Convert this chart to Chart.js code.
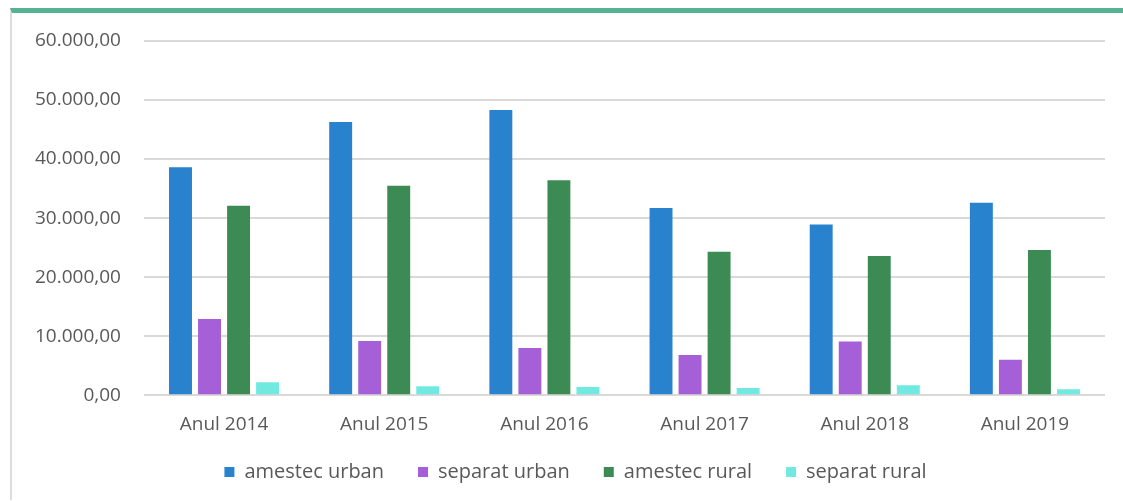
<!DOCTYPE html>
<html>
<head>
<meta charset="utf-8">
<script src="https://cdn.jsdelivr.net/npm/chart.js@4"></script>
<style>
  body { margin: 0; background: #fff; }
  #frame {
    position: absolute;
    left: 10px; top: 8px;
    width: 1111px; height: 487px;
    border-top: 5px solid #55b393;
    border-left: 2px solid #dcdcdc;
  }
  #chart { display: block; }
</style>
</head>
<body>
<div id="frame"><canvas id="chart" width="1111" height="487"></canvas></div>
<script>
// years on the x axis
const years = ['Anul 2014', 'Anul 2015', 'Anul 2016', 'Anul 2017', 'Anul 2018', 'Anul 2019'];

// values
const amestecUrban = [38600, 46300, 48300, 31700, 28900, 32600];
const separatUrban = [12900, 9200, 8000, 6800, 9100, 6000];
const amestecRural = [32100, 35500, 36400, 24300, 23600, 24600];
const separatRural = [2200, 1500, 1400, 1200, 1700, 1000];

const yMax = 60000;
const yStep = 10000;

function roNumber(v) {
    // 60000 -> "60.000,00"
    const whole = Math.round(v).toString().replace(/\B(?=(\d{3})+(?!\d))/g, '.');
    return whole + ',00';
}

const textColor = '#595959';
const fontName = '"Open Sans", sans-serif';
const legendGap = 34;   // space between legend items
const legendTrim = 18;  // cut the empty band above the legend text
const legendShift = 17; // legend sits a bit right of the canvas centre

// legend padding is used both between items and above/below them,
// so trim the top part to let the plot use that height
const legendTrimPlugin = {
    id: 'legendTrim',
    afterInit(chart) {
        const lg = chart.legend;
        const fit = lg.fit;
        lg.fit = function () {
            fit.call(this);
            this.height -= legendTrim;
        };
    },
    afterLayout(chart) {
        const lg = chart.legend;
        lg.top -= legendTrim;
        lg.left += legendShift;
        lg.right += legendShift;
    }
};

new Chart(document.getElementById('chart'), {
    type: 'bar',
    data: {
        labels: years,
        datasets: [
            { label: 'amestec urban', data: amestecUrban, backgroundColor: 'rgb(40,130,205)' },
            { label: 'separat urban', data: separatUrban, backgroundColor: 'rgb(165,96,215)' },
            { label: 'amestec rural', data: amestecRural, backgroundColor: 'rgb(60,139,84)' },
            { label: 'separat rural', data: separatRural, backgroundColor: 'rgb(112,234,224)' }
        ]
    },
    plugins: [legendTrimPlugin],
    options: {
        responsive: false,
        animation: false,
        layout: { padding: { top: 28, right: 18, left: 0, bottom: 8 } },
        datasets: {
            bar: { categoryPercentage: 0.725, barPercentage: 0.79 }
        },
        scales: {
            x: {
                grid: { display: false },
                border: { display: false },
                ticks: {
                    color: textColor,
                    padding: 10,
                    font: { family: fontName, size: 19 }
                }
            },
            y: {
                min: 0,
                max: yMax,
                border: { display: false },
                grid: { color: '#d9d9d9', lineWidth: 2, drawTicks: false },
                ticks: {
                    stepSize: yStep,
                    color: textColor,
                    padding: 23,
                    font: { family: fontName, size: 19 },
                    callback: v => roNumber(v)
                },
                // tick padding would also push the plot top down; keep only the side gap
                afterFit(scale) {
                    scale.paddingTop = 0;
                    scale.paddingBottom = 0;
                }
            }
        },
        plugins: {
            legend: {
                position: 'bottom',
                labels: {
                    color: textColor,
                    boxWidth: 10,
                    boxHeight: 10,
                    padding: legendGap,
                    font: { family: fontName, size: 20 }
                }
            },
            tooltip: { enabled: false }
        }
    }
});
</script>
</body>
</html>
